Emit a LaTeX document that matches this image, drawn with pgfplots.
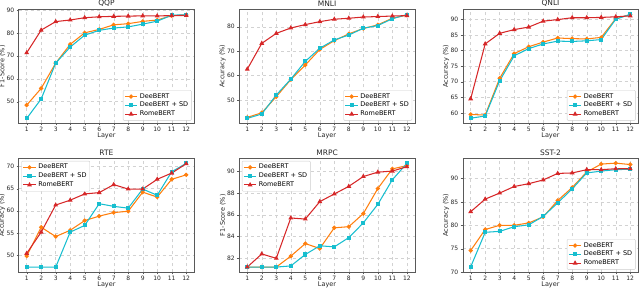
\documentclass[border=0pt]{standalone}
\usepackage{pgfplots}
\pgfplotsset{compat=1.18}
\usepackage{fontspec}
\setmainfont{DejaVu Sans}
\definecolor{cOr}{HTML}{FF7F0E}
\definecolor{cCy}{HTML}{17BECF}
\definecolor{cRd}{HTML}{D62728}
\pgfplotsset{
 sub/.style={scale only axis, width=175.5pt, height=114.5pt, anchor=south west,
  xmin=0.45, xmax=12.55, xtick={1,...,12},
  tick align=outside, tick pos=left, major tick length=2pt,
  grid=major, grid style={dashed, gray!35, line width=0.4pt},
  axis line style={black!65}, tick style={black!65},
  ticklabel style={font=\fontsize{6}{7}\selectfont, text=black!85},
  xticklabel style={yshift=2pt}, yticklabel style={xshift=1pt},
  label style={font=\fontsize{6.5}{7}\selectfont, text=black!85},
  xlabel style={yshift=6pt}, ylabel style={yshift=-5.5pt},
  title style={font=\fontsize{7.5}{8}\selectfont, text=black!85, yshift=-7pt},
  xlabel=Layer,
  legend style={font=\fontsize{6.5}{7.5}\selectfont, draw=black!20, rounded corners=1pt, inner sep=1.2pt, row sep=-1.5pt},
  legend cell align=left,
  legend image code/.code={\draw[mark repeat=2,mark phase=2] plot coordinates {(0cm,0cm) (0.22cm,0cm) (0.44cm,0cm)};},
  /pgf/number format/assume math mode=true},
 dee/.style={cOr, line width=1.05pt, mark=*, mark size=1.6pt, mark options={solid}},
 sd/.style={cCy, line width=1.05pt, mark=square*, mark size=1.5pt, mark options={solid}},
 rome/.style={cRd, line width=1.05pt, mark=triangle*, mark size=1.8pt, mark options={solid}},
 lr/.style={legend style={at={(0.985,0.025)}, anchor=south east}},
 ul/.style={legend style={at={(0.015,0.975)}, anchor=north west}},
}
\begin{document}
\begin{tikzpicture}
\path[use as bounding box] (0,0) rectangle (640pt,288pt);
% QQP
\begin{axis}[sub, lr, at={(18.7pt,164.5pt)}, title=QQP, ylabel={F1-Score (\%)}, ymin=40.5, ymax=90.4, ytick={50,60,70,80,90}]
\addplot[dee] coordinates {(1,48.5)(2,55.8)(3,66.8)(4,75.0)(5,80.0)(6,81.5)(7,83.5)(8,84.0)(9,85.0)(10,85.6)(11,87.5)(12,87.8)};
\addplot[sd] coordinates {(1,42.7)(2,51.2)(3,66.8)(4,73.8)(5,79.0)(6,81.1)(7,82.1)(8,82.6)(9,83.8)(10,85.1)(11,87.7)(12,87.9)};
\addplot[rome] coordinates {(1,71.3)(2,81.2)(3,84.9)(4,85.6)(5,86.6)(6,87.0)(7,87.2)(8,87.3)(9,87.4)(10,87.4)(11,87.5)(12,87.6)};
\legend{DeeBERT, DeeBERT + SD, RomeBERT}
\end{axis}
% MNLI
\begin{axis}[sub, lr, at={(239.3pt,164.5pt)}, title=MNLI, ylabel={Accuracy (\%)}, ymin=40.3, ymax=87.3, ytick={50,60,70,80}]
\addplot[dee] coordinates {(1,42.8)(2,44.7)(3,51.3)(4,58.3)(5,64.3)(6,70.7)(7,74.3)(8,77.1)(9,79.3)(10,80.8)(11,83.5)(12,84.8)};
\addplot[sd] coordinates {(1,42.4)(2,44.2)(3,52.0)(4,58.5)(5,65.8)(6,71.2)(7,74.6)(8,76.6)(9,79.4)(10,80.5)(11,83.3)(12,85.0)};
\addplot[rome] coordinates {(1,62.6)(2,73.2)(3,77.3)(4,79.5)(5,80.9)(6,82.1)(7,83.1)(8,83.5)(9,84.0)(10,84.2)(11,84.4)(12,84.6)};
\legend{DeeBERT, DeeBERT + SD, RomeBERT}
\end{axis}
% QNLI
\begin{axis}[sub, lr, at={(462.7pt,164.5pt)}, title=QNLI, ylabel={Accuracy (\%)}, ymin=56.6, ymax=93.3, ytick={60,65,70,75,80,85,90}]
\addplot[dee] coordinates {(1,59.5)(2,59.3)(3,71.1)(4,79.0)(5,81.2)(6,82.7)(7,84.0)(8,83.8)(9,83.7)(10,84.2)(11,90.2)(12,91.5)};
\addplot[sd] coordinates {(1,58.3)(2,59.0)(3,70.3)(4,78.3)(5,80.6)(6,82.1)(7,83.0)(8,82.9)(9,83.1)(10,83.5)(11,90.0)(12,91.6)};
\addplot[rome] coordinates {(1,64.5)(2,82.1)(3,85.5)(4,86.7)(5,87.5)(6,89.4)(7,89.9)(8,90.5)(9,90.5)(10,90.6)(11,90.8)(12,91.1)};
\legend{DeeBERT, DeeBERT + SD, RomeBERT}
\end{axis}
% RTE
\begin{axis}[sub, ul, at={(18.7pt,15.5pt)}, title=RTE, ylabel={Accuracy (\%)}, ymin=46.1, ymax=71.9, ytick={50,55,60,65,70}]
\addplot[dee] coordinates {(1,49.8)(2,56.3)(3,54.2)(4,55.6)(5,57.8)(6,58.8)(7,59.6)(8,59.9)(9,64.2)(10,63.1)(11,67.1)(12,68.1)};
\addplot[sd] coordinates {(1,47.3)(2,47.3)(3,47.3)(4,55.2)(5,56.7)(6,61.6)(7,61.0)(8,60.6)(9,64.9)(10,63.5)(11,68.8)(12,70.7)};
\addplot[rome] coordinates {(1,50.4)(2,55.2)(3,61.3)(4,62.4)(5,63.8)(6,64.1)(7,65.9)(8,64.9)(9,64.9)(10,67.1)(11,68.5)(12,70.6)};
\legend{DeeBERT, DeeBERT + SD, RomeBERT}
\end{axis}
% MRPC
\begin{axis}[sub, ul, at={(239.3pt,15.5pt)}, title=MRPC, ylabel={F1-Score (\%)}, ymin=80.7, ymax=91.2, ytick={82,84,86,88,90}]
\addplot[dee] coordinates {(1,81.2)(2,81.2)(3,81.2)(4,82.2)(5,83.35)(6,82.9)(7,84.8)(8,84.9)(9,86.1)(10,88.4)(11,90.2)(12,90.5)};
\addplot[sd] coordinates {(1,81.2)(2,81.2)(3,81.2)(4,81.3)(5,82.35)(6,83.15)(7,83.05)(8,83.9)(9,85.25)(10,86.95)(11,89.2)(12,90.7)};
\addplot[rome] coordinates {(1,81.2)(2,82.4)(3,82.0)(4,85.7)(5,85.6)(6,87.2)(7,87.9)(8,88.6)(9,89.5)(10,89.9)(11,90.0)(12,90.4)};
\legend{DeeBERT, DeeBERT + SD, RomeBERT}
\end{axis}
% SST-2
\begin{axis}[sub, lr, at={(462.7pt,15.5pt)}, title=SST-2, ylabel={Accuracy (\%)}, ymin=69.9, ymax=94.4, ytick={70,75,80,85,90}]
\addplot[dee] coordinates {(1,74.6)(2,79.1)(3,80.0)(4,80.0)(5,80.5)(6,81.8)(7,85.3)(8,88.1)(9,91.4)(10,93.1)(11,93.3)(12,93.0)};
\addplot[sd] coordinates {(1,71.1)(2,78.5)(3,78.7)(4,79.7)(5,80.1)(6,81.9)(7,84.8)(8,87.8)(9,91.2)(10,91.6)(11,91.9)(12,92.0)};
\addplot[rome] coordinates {(1,82.9)(2,85.6)(3,86.9)(4,88.3)(5,88.9)(6,89.7)(7,91.1)(8,91.2)(9,91.9)(10,91.9)(11,92.1)(12,92.1)};
\legend{DeeBERT, DeeBERT + SD, RomeBERT}
\end{axis}
\end{tikzpicture}
\end{document}
